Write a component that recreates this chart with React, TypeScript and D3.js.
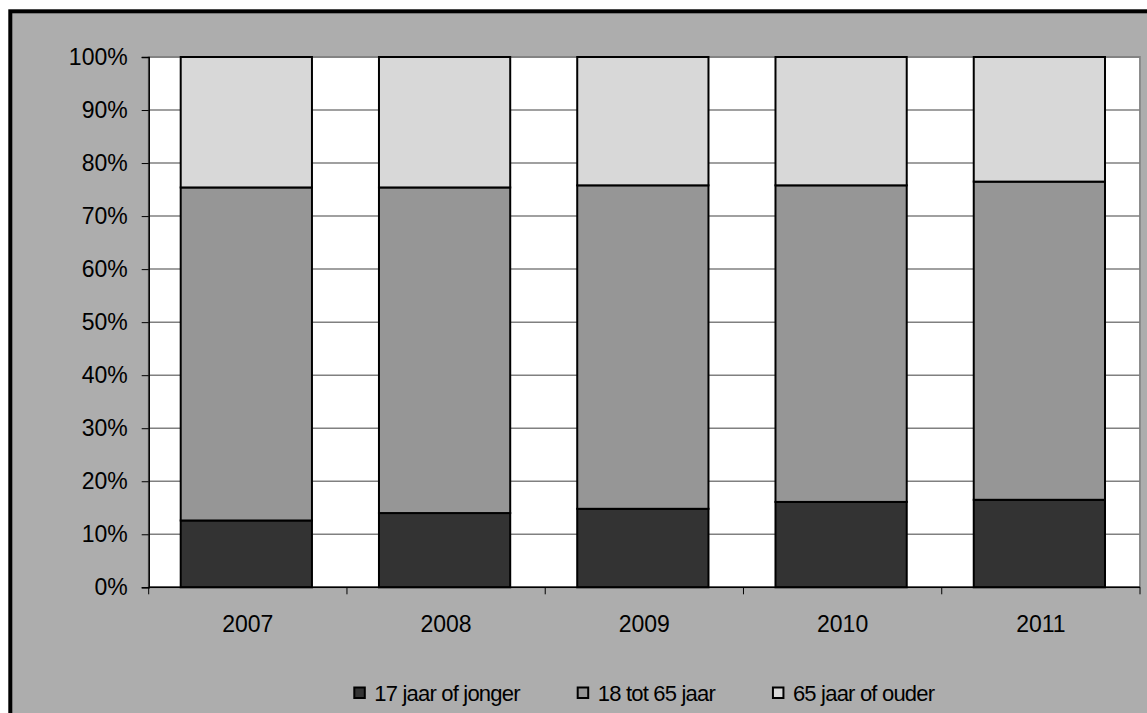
import { useRef, useEffect } from 'react';
import * as d3 from 'd3';

const YEARS = ['2007', '2008', '2009', '2010', '2011'];
const SERIES = ['17 jaar of jonger', '18 tot 65 jaar', '65 jaar of ouder'];
const YOUNG = [12.6, 14.0, 14.8, 16.1, 16.5];
const ADULT = [62.8, 61.4, 61.0, 59.7, 60.0];
const SENIOR = [24.6, 24.6, 24.2, 24.2, 23.5];
const Y_TICKS = [0, 10, 20, 30, 40, 50, 60, 70, 80, 90, 100];

const FILLS = ['#333333', '#969696', '#D8D8D8'];
const FONT = '"Liberation Sans", Arial, sans-serif';

export default function App() {
  const svgRef = useRef<SVGSVGElement>(null);

  useEffect(() => {
    if (!svgRef.current) return;
    const width = 1147;
    const height = 713;
    const margin = { top: 57, right: 7, bottom: 125.7, left: 148.7 };

    const svg = d3.select(svgRef.current);
    svg.selectAll('*').remove();
    svg.attr('width', width).attr('height', height).attr('viewBox', `0 0 ${width} ${height}`);

    // Chart frame (runs off the right and bottom edges)
    svg.append('rect').attr('width', width).attr('height', height).attr('fill', 'white');
    svg.append('rect')
      .attr('x', 10.3).attr('y', 11.3)
      .attr('width', width + 50).attr('height', height + 50)
      .attr('fill', '#ADADAD').attr('stroke', '#000').attr('stroke-width', 4);

    const x = d3.scaleBand<string>().domain(YEARS).range([margin.left, width - margin.right]);
    const y = d3.scaleLinear().domain([0, 100]).range([height - margin.bottom, margin.top]);

    // Plot area
    svg.append('rect')
      .attr('x', margin.left).attr('y', margin.top)
      .attr('width', width - margin.right - margin.left)
      .attr('height', height - margin.bottom - margin.top)
      .attr('fill', 'white').attr('stroke', '#8C8C8C').attr('stroke-width', 2);

    // Gridlines
    svg.append('g')
      .selectAll('line')
      .data(Y_TICKS.filter(d => d > 0))
      .join('line')
      .attr('x1', margin.left).attr('x2', width - margin.right)
      .attr('y1', d => y(d)).attr('y2', d => y(d))
      .attr('stroke', '#808080').attr('stroke-width', 1.5);

    // Stacked bars
    const rows = YEARS.map((yr, i) => ({ year: yr, v: [YOUNG[i], ADULT[i], SENIOR[i]] }));
    const barW = x.bandwidth() * 0.662;
    rows.forEach(r => {
      let base = 0;
      r.v.forEach((val, k) => {
        const top = base + val;
        svg.append('rect')
          .attr('x', x(r.year)! + x.bandwidth() / 2 - barW / 2 - 1.5)
          .attr('y', y(Math.min(top, 100)))
          .attr('width', barW)
          .attr('height', y(base) - y(Math.min(top, 100)))
          .attr('fill', FILLS[k])
          .attr('stroke', '#000').attr('stroke-width', 2);
        base = top;
      });
    });

    // Y axis
    svg.append('g')
      .attr('transform', `translate(${margin.left},0)`)
      .call(d3.axisLeft(y).tickValues(Y_TICKS).tickSize(7).tickPadding(14).tickFormat(d => `${d}%`))
      .call(g => g.select('.domain').attr('stroke', '#000').attr('stroke-width', 1.5))
      .call(g => g.selectAll('.tick line').attr('stroke', '#000').attr('stroke-width', 1))
      .call(g => g.selectAll('.tick text').attr('fill', '#000').attr('font-size', '23px').attr('font-family', FONT));

    // X axis
    const tickPos = [...YEARS.map(d => x(d)!), width - margin.right];
    const xAxis = svg.append('g');
    xAxis.append('line')
      .attr('x1', margin.left).attr('x2', width - margin.right)
      .attr('y1', y(0)).attr('y2', y(0))
      .attr('stroke', '#000').attr('stroke-width', 1.5);
    xAxis.selectAll('line.tk')
      .data(tickPos)
      .join('line')
      .attr('class', 'tk')
      .attr('x1', d => d).attr('x2', d => d)
      .attr('y1', y(0)).attr('y2', y(0) + 7)
      .attr('stroke', '#000').attr('stroke-width', 1);
    xAxis.selectAll('text')
      .data(YEARS)
      .join('text')
      .attr('x', d => x(d)! + x.bandwidth() / 2)
      .attr('y', y(0) + 45)
      .attr('text-anchor', 'middle')
      .attr('font-size', '23px').attr('font-family', FONT).attr('fill', '#000')
      .text(d => d);

    // Legend
    const legend = svg.append('g');
    let lx = 353.3;
    const ly = 700.5;
    SERIES.forEach((name, k) => {
      legend.append('rect')
        .attr('x', lx + 1).attr('y', ly - 13)
        .attr('width', 10.5).attr('height', 10.5)
        .attr('fill', FILLS[k]).attr('stroke', '#000').attr('stroke-width', 2);
      const t = legend.append('text')
        .attr('x', lx + 21).attr('y', ly)
        .attr('font-size', '22px').attr('font-family', FONT)
        .attr('letter-spacing', '-0.8px').attr('fill', '#000')
        .text(name);
      const w = (t.node() as SVGTextElement).getComputedTextLength();
      lx = lx + 21 + w + 57;
    });
  }, []);

  return <svg ref={svgRef} style={{ position: 'absolute', left: 0, top: 0, display: 'block' }} />;
}
